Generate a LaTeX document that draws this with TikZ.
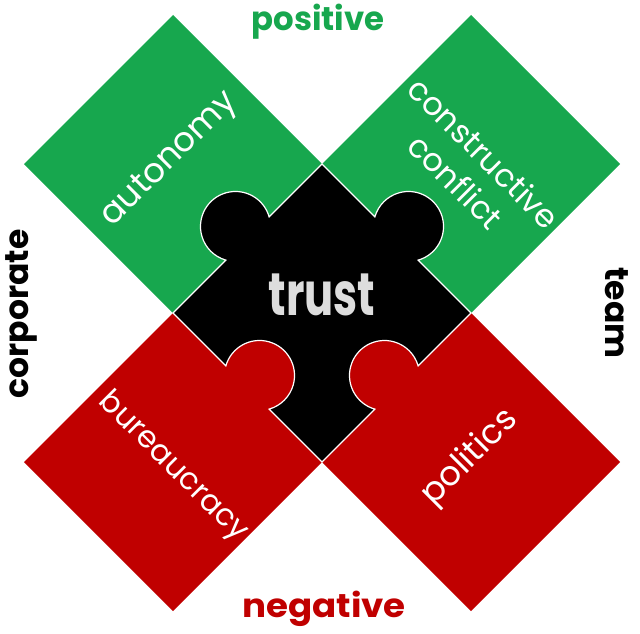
\documentclass[tikz,border=0pt]{standalone}
\usepackage{fontspec}
\setmainfont{Poppins}
\definecolor{pgreen}{HTML}{17A74E}
\definecolor{pred}{HTML}{C00000}
\definecolor{tgray}{HTML}{DDDDDD}
\begin{document}
\begin{tikzpicture}[x=0.5pt,y=0.5pt,
  outline/.style={draw=white,line width=0.6pt},
  lbl/.style={text=white,inner sep=0pt,align=center,font=\fontsize{17}{19}\selectfont},
  smlbl/.style={lbl,font=\fontsize{16}{20}\selectfont},
  sidelbl/.style={inner sep=0pt,font=\fontsize{16.5}{18}\selectfont\bfseries},
  vlbl/.style={inner sep=0pt,anchor=base,font=\fontsize{16.5}{18}\selectfont\bfseries}]
\useasboundingbox (0,0) rectangle (640,633);
\def\s{105.36}\def\w{30.6}\def\r{35}
% green squares
\begin{scope}[shift={(173,469)},rotate=45]
  \fill[pgreen] (-\s,-\s) rectangle (\s,\s);
\end{scope}
\begin{scope}[shift={(471,469)},rotate=45]
  \fill[pgreen] (-\s,-\s) rectangle (\s,\s);
\end{scope}
% red squares with tabs
\begin{scope}[shift={(173,171)},rotate=45]
  \fill[pred] (-\s,-\s) -- (\s,-\s) -- (\s,-\w)
    arc[start angle=-119.05,end angle=119.05,radius=\r] -- (\s,\s) -- (-\s,\s) -- cycle;
\end{scope}
\begin{scope}[shift={(471,171)},rotate=45]
  \fill[pred] (-\s,-\s) -- (\s,-\s) -- (\s,\s) -- (\w,\s)
    arc[start angle=-29.05,end angle=209.05,radius=\r] -- (-\s,\s) -- cycle;
\end{scope}
% black centre piece
\begin{scope}[shift={(322,320)},rotate=45]
  \filldraw[fill=black,outline]
   (-\s,-\s) -- (-\w,-\s) arc[start angle=209.05,end angle=-29.05,radius=\r] -- (\s,-\s)
   -- (\s,-\w) arc[start angle=-119.05,end angle=119.05,radius=\r] -- (\s,\s)
   -- (\w,\s) arc[start angle=-29.05,end angle=209.05,radius=\r] -- (-\s,\s)
   -- (-\s,\w) arc[start angle=119.05,end angle=-119.05,radius=\r] -- cycle;
\end{scope}
% labels
\node[inner sep=0pt,text=tgray,xscale=0.72,font=\fontsize{30}{32}\selectfont\bfseries] (trust) at (322,338) {trust};
\node[lbl,rotate=45] (autonomy) at (170,473) {autonomy};
\node[smlbl,rotate=-45] (conflict) at (470,466) {constructive\\conflict};
\node[lbl,rotate=-45,font=\fontsize{15.3}{18}\selectfont] (bureau) at (173,166) {bureaucracy};
\node[lbl,rotate=45] (politics) at (470,175) {politics};
\node[vlbl,text=pgreen,xscale=0.98] (pos) at (318,602) {positive};
\node[vlbl,text=pred,xscale=1.08] (neg) at (324,16) {negative};
\node[sidelbl,rotate=90] (corp) at (21,319) {corporate};
\node[sidelbl,rotate=-90] (team) at (617,320) {team};
\end{tikzpicture}
\end{document}
